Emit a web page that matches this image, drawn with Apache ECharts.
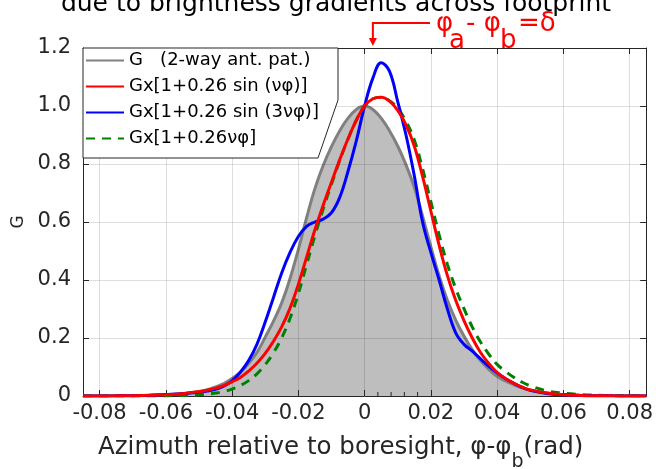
<!DOCTYPE html>
<html><head><meta charset="utf-8">
<script src="https://cdn.jsdelivr.net/npm/echarts@6/dist/echarts.min.js"></script>
<style>html,body{margin:0;padding:0;background:#fff}#c{width:656px;height:469px}</style>
</head><body><div id="c"></div>
<script>
// azimuth relative to boresight (rad)
const xs = [-0.085,-0.08,-0.075,-0.07,-0.065,-0.06,-0.055,-0.05,
  -0.0475,-0.045,-0.0425,-0.04,-0.0375,-0.035,-0.0325,-0.03,-0.0275,-0.025,-0.0225,-0.02,-0.0175,-0.015,-0.0125,-0.01,-0.0075,-0.005,-0.0025,
  0,
  0.0025,0.005,0.0075,0.01,0.0125,0.015,0.0175,0.02,0.0225,0.025,0.0275,0.03,0.0325,0.035,0.0375,0.04,0.0425,0.045,0.0475,
  0.05,0.055,0.06,0.065,0.07,0.075,0.08,0.085];
// G (2-way antenna pattern)
const gPattern = [0.0001,0.0002,0.0005,0.001,0.002,0.004,0.008,0.016,
  0.022,0.031,0.043,0.060,0.082,0.112,0.150,0.203,0.258,0.322,0.405,0.505,0.615,0.715,0.795,0.860,0.915,0.958,0.988,
  1.0,
  0.988,0.958,0.915,0.862,0.797,0.72,0.62,0.515,0.415,0.33,0.262,0.207,0.16,0.122,0.092,0.068,0.052,0.039,0.028,
  0.02,0.01,0.005,0.0025,0.0012,0.0006,0.0003,0.0001];
// Gx[1+0.26 sin(νφ)]
const gSinNu = [0.0001,0.0003,0.0006,0.0012,0.0023,0.0043,0.008,0.015,
  0.020,0.027,0.036,0.049,0.064,0.086,0.113,0.147,0.189,0.239,0.303,0.385,0.479,0.573,0.658,0.737,0.815,0.887,0.951,
  1.0,
  1.025,1.03,1.017,0.985,0.935,0.862,0.757,0.638,0.52,0.415,0.33,0.26,0.2,0.15,0.112,0.081,0.06,0.044,0.031,
  0.021,0.01,0.0046,0.002,0.001,0.0005,0.0002,0.0001];
// Gx[1+0.26 sin(3νφ)]
const gSin3Nu = [0.0001,0.0003,0.0006,0.0012,0.0024,0.005,0.008,0.013,
  0.017,0.023,0.034,0.052,0.082,0.122,0.178,0.255,0.34,0.425,0.495,0.55,0.585,0.6,0.61,0.632,0.685,0.775,0.88,
  1.0,
  1.096,1.149,1.12,1.015,0.90,0.76,0.60,0.495,0.40,0.30,0.218,0.178,0.155,0.128,0.102,0.08,0.06,0.044,0.03,
  0.02,0.009,0.004,0.002,0.001,0.0005,0.0002,0.0001];
// Gx[1+0.26νφ]
const gLinear = [0,0,0,0,0,0.0004,0.0014,0.004,
  0.006,0.010,0.0155,0.024,0.036,0.053,0.0765,0.108,0.149,0.201,0.268,0.353,0.453,0.553,0.645,0.730,0.812,0.886,0.951,
  1.0,
  1.025,1.03,1.018,0.992,0.947,0.883,0.784,0.67,0.556,0.454,0.371,0.301,0.238,0.186,0.144,0.109,0.085,0.065,0.048,
  0.035,0.018,0.0095,0.005,0.0025,0.0013,0.0006,0.0002];

const seriesNames = ['G   (2-way ant. pat.)','Gx[1+0.26 sin (νφ)]','Gx[1+0.26 sin (3νφ)]','Gx[1+0.26νφ]'];
const xTickValues = [-0.08,-0.06,-0.04,-0.02,0,0.02,0.04,0.06,0.08];
const xMinorTicks = [0.004,0.008,0.012,0.016];
const delta = 0.0025;
const titleText = 'due to brightness gradients across footprint';

const FONT = 'DejaVu Sans';
const AX = '#262626';
function pairs(ys){ return xs.map((x,i)=>[x, ys[i]]); }

const chart = echarts.init(document.getElementById('c'), null, {renderer:'canvas'});
const lineBase = {type:'line', smooth:0.4, showSymbol:false, symbol:'none', xAxisIndex:0, yAxisIndex:0};
chart.setOption({
  animation:false,
  textStyle:{fontFamily:FONT},
  grid:{left:83, right:2, top:48, bottom:73, containLabel:false},
  xAxis:[{
    type:'value', min:-0.085, max:0.085, position:'bottom', z:2,
    axisLine:{show:true, onZero:false, lineStyle:{color:AX, width:1}},
    axisTick:{show:true, inside:true, length:6, customValues:xTickValues, lineStyle:{color:AX}},
    axisLabel:{customValues:xTickValues, fontSize:21, color:AX, margin:7, fontFamily:FONT,
      formatter:v=> Math.abs(v)<1e-9 ? '0' : v.toFixed(2)},
    splitLine:{show:true, lineStyle:{color:'rgba(0,0,0,0.13)', width:1}}
  },{
    type:'value', min:-0.085, max:0.085, position:'top', z:2,
    axisLine:{show:true, onZero:false, lineStyle:{color:AX, width:1}},
    axisTick:{show:true, inside:true, length:6, customValues:xTickValues, lineStyle:{color:AX}},
    axisLabel:{show:false}, splitLine:{show:false}
  }],
  yAxis:[{
    type:'value', min:0, max:1.2, interval:0.2, position:'left', z:2,
    name:'G', nameLocation:'middle', nameGap:51, nameRotate:90,
    nameTextStyle:{fontSize:17, color:AX, fontFamily:FONT},
    axisLine:{show:true, onZero:false, lineStyle:{color:AX, width:1}},
    axisTick:{show:true, inside:true, length:6, lineStyle:{color:AX}},
    axisLabel:{fontSize:21, color:AX, margin:12, fontFamily:FONT,
      formatter:v=> Math.abs(v)<1e-9 ? '0' : v.toFixed(1)},
    splitLine:{show:true, lineStyle:{color:'rgba(0,0,0,0.13)', width:1}}
  },{
    type:'value', min:0, max:1.2, interval:0.2, position:'right', z:2,
    axisLine:{show:true, onZero:false, lineStyle:{color:AX, width:1}},
    axisTick:{show:true, inside:true, length:6, lineStyle:{color:AX}},
    axisLabel:{show:false}, splitLine:{show:false}
  }],
  legend:{
    orient:'vertical', left:85, top:50, z:5, padding:0,
    itemWidth:38, itemHeight:14, itemGap:5,
    itemStyle:{opacity:0},
    textStyle:{fontSize:18, color:'#000', fontFamily:FONT, lineHeight:21},
    data:seriesNames
  },
  series:[
    Object.assign({}, lineBase, {name:seriesNames[0], z:1, data:pairs(gPattern),
      lineStyle:{color:'#808080', width:3}, itemStyle:{color:'#808080'},
      areaStyle:{color:'#bebebe', opacity:1}}),
    Object.assign({}, lineBase, {name:seriesNames[3], z:3, data:pairs(gLinear),
      lineStyle:{color:'#008000', width:3, type:[9,7]}, itemStyle:{color:'#008000'}}),
    Object.assign({}, lineBase, {name:seriesNames[2], z:3, data:pairs(gSin3Nu),
      lineStyle:{color:'#0000ff', width:3}, itemStyle:{color:'#0000ff'}}),
    Object.assign({}, lineBase, {name:seriesNames[1], z:4, data:pairs(gSinNu),
      lineStyle:{color:'#ff0000', width:3}, itemStyle:{color:'#ff0000'}})
  ]
});

// decorations positioned through the axes
const px = v => chart.convertToPixel({xAxisIndex:0}, v);
const py = v => chart.convertToPixel({yAxisIndex:0}, v);
const xd = px(delta), yTop = py(1.2), yBot = py(0);
const minor = xMinorTicks.map(v => ({type:'line', z:6, shape:{x1:px(v), y1:yBot, x2:px(v), y2:yBot-4}, style:{stroke:AX, lineWidth:1}}));
const red = '#ff0000';
function t(x, y, s, size, color){ return {type:'text', z:6, x:x, y:y, style:{text:s, font:size+'px '+FONT, fill:color, align:'left', verticalAlign:'top'}}; }
chart.setOption({graphic:[
  {type:'polygon', z:3, shape:{points:[[px(-0.085),yTop],[338,yTop],[338,100],[318,158],[px(-0.085),158]]},
    style:{fill:'#fff', stroke:AX, lineWidth:1}},
  {type:'text', z:6, x:336, y:17, style:{text:titleText, font:'25px '+FONT, fill:'#000', align:'center', verticalAlign:'bottom'}},
  {type:'polyline', z:6, shape:{points:[[xd, yTop-8],[xd,23],[430,23]]}, style:{stroke:red, lineWidth:2, fill:null}},
  {type:'polygon', z:6, shape:{points:[[xd-4,yTop-10],[xd+4,yTop-10],[xd,yTop-2]]}, style:{fill:red}},
  t(436, 11, 'φ', 26, red),
  t(449, 28, 'a', 26, red),
  t(466, 11, '- φ', 26, red),
  t(500, 28, 'b', 26, red),
  t(518, 11, '=δ', 26, red),
  {type:'text', z:6, x:98, y:435, style:{
    text:'{n|Azimuth relative to boresight, φ-φ}{s|b}{n|(rad)}', fill:AX,
    rich:{n:{fontSize:24.5, fontFamily:FONT, color:AX, lineHeight:37, verticalAlign:'top'},
          s:{fontSize:19, fontFamily:FONT, color:AX, lineHeight:37, verticalAlign:'bottom'}}}}
].concat(minor)});
</script>
</body></html>
